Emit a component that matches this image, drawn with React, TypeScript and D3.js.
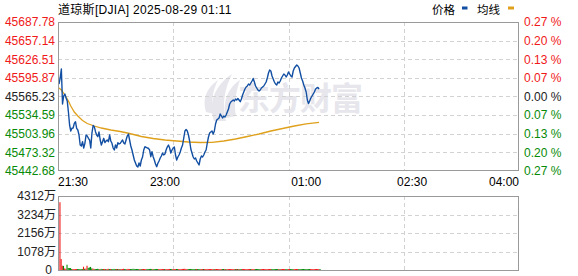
import React from 'react';
import * as d3 from 'd3';

const TITLE = '道琼斯[DJIA] 2025-08-29 01:11';
const LEGEND = ['价格', '均线'];
const PRICE_TICKS = ['45687.78', '45657.14', '45626.51', '45595.87', '45565.23', '45534.59', '45503.96', '45473.32', '45442.68'];
const PCT_TICKS = ['0.27 %', '0.20 %', '0.13 %', '0.07 %', '0.00 %', '0.07 %', '0.13 %', '0.20 %', '0.27 %'];
const TIME_LABELS = ['21:30', '23:00', '01:00', '02:30', '04:00'];
const TIME_LABEL_MINUTES = [0, 90, 210, 300, 390];
const VOL_TICKS = ['4312万', '3234万', '2156万', '1078万', '0'];
const VOL_TICK_VALUES = [4312, 3234, 2156, 1078, 0];
const PREV_CLOSE = 45565.23;
const SESSION_MINUTES = 390;

const prices = [
  45585.79, 45595.66, 45610.47, 45552.89, 45566.05, 45569.34, 45562.76, 45557.82, 45539.73, 45518.34,
  45508.47, 45512.92, 45513.41, 45521.14, 45523.77, 45512.92, 45510.12, 45501.89, 45485.44, 45483.80,
  45490.87, 45480.51, 45488.24, 45501.89, 45500.25, 45496.47, 45493.67, 45480.51, 45505.18, 45517.52,
  45515.55, 45507.32, 45501.89, 45499.10, 45506.83, 45493.67, 45485.44, 45490.87, 45496.47, 45489.56,
  45492.02, 45493.67, 45490.87, 45501.89, 45492.02, 45488.24, 45480.51, 45477.22, 45485.44, 45480.51,
  45489.23, 45487.09, 45488.24, 45490.87, 45493.67, 45488.73, 45487.09, 45493.67, 45500.25, 45503.54,
  45493.67, 45483.80, 45477.22, 45468.99, 45460.77, 45455.83, 45450.90, 45449.25, 45455.83, 45450.90,
  45460.77, 45465.70, 45477.22, 45482.65, 45481.66, 45480.51, 45480.02, 45477.22, 45466.20, 45474.42,
  45466.20, 45460.77, 45454.19, 45449.75, 45455.34, 45459.12, 45464.06, 45467.35, 45472.28, 45468.99,
  45470.64, 45477.22, 45482.15, 45485.44, 45480.51, 45472.28, 45477.22, 45480.51, 45482.15, 45468.99,
  45460.77, 45465.70, 45468.99, 45473.93, 45480.51, 45485.44, 45496.96, 45508.47, 45510.94, 45508.47,
  45501.89, 45492.02, 45478.86, 45472.28, 45465.70, 45462.41, 45464.06, 45459.12, 45455.83, 45452.54,
  45462.41, 45467.35, 45465.70, 45468.99, 45473.93, 45477.22, 45488.73, 45498.60, 45505.18, 45506.83,
  45508.47, 45503.54, 45508.47, 45519.99, 45526.57, 45528.21, 45529.86, 45536.44, 45533.15, 45529.86,
  45533.15, 45531.50, 45534.79, 45539.73, 45544.66, 45552.89, 45556.18, 45557.82, 45559.47, 45557.82,
  45561.12, 45559.47, 45561.94, 45559.47, 45556.67, 45561.12, 45567.70, 45572.63, 45577.57, 45580.86,
  45582.50, 45585.79, 45584.15, 45587.44, 45590.73, 45594.84, 45589.08, 45582.50, 45579.21, 45575.92,
  45574.28, 45575.92, 45579.21, 45580.86, 45582.50, 45585.79, 45589.08, 45595.66, 45603.89, 45608.82,
  45607.18, 45598.95, 45594.02, 45589.08, 45585.79, 45584.15, 45589.08, 45587.44, 45590.73, 45595.66,
  45598.95, 45602.24, 45600.60, 45597.31, 45600.60, 45605.53, 45602.24, 45598.95, 45597.31, 45607.18,
  45612.11, 45614.58, 45617.05, 45615.40, 45612.11, 45603.89, 45595.66, 45590.73, 45584.15, 45579.21,
  45572.63, 45559.47, 45553.71, 45557.82, 45562.76, 45566.05, 45569.34, 45572.63, 45577.57, 45579.21,
  45580.03, 45577.57,
];

const avgMinutes = [0, 2, 5, 8, 10, 13, 16, 20, 24, 30, 36, 44, 52, 60, 70, 80, 90, 100, 110, 120, 130, 140, 150, 160, 170, 180, 190, 200, 210, 221];
const avgPrices = [
  45579.21, 45575.92, 45567.70, 45557.82, 45549.60, 45539.73, 45533.15, 45525.75, 45520.81, 45516.70,
  45513.41, 45510.12, 45507.65, 45504.36, 45499.43, 45496.14, 45493.67, 45492.02, 45490.38, 45489.56,
  45489.89, 45492.02, 45495.31, 45499.43, 45503.54, 45508.47, 45512.59, 45516.70, 45520.32, 45522.79,
];

const volumes = [
  3950, 640, 250, 240, 90, 70, 310, 120, 115, 110,
  60, 50, 45, 55, 50, 45, 50, 55, 60, 50,
  190, 75, 80, 250, 120, 150, 180, 90, 85, 60,
  60, 45, 70, 55, 50, 65, 40, 55, 60, 50,
  45, 70, 55, 60, 50, 45, 65, 55, 50, 60,
  55, 45, 60, 50, 70, 55, 45, 60, 65, 50,
  55, 60, 70, 65, 55, 50, 60, 45, 55, 50,
  60, 55, 50, 45, 60, 55, 50, 65, 60, 45,
  50, 55, 60, 50, 45, 55, 60, 50, 45, 55,
  50, 45, 55, 60, 50, 45, 50, 55, 45, 50,
  55, 50, 45, 50, 60, 65, 70, 60, 55, 50,
  55, 60, 50, 45, 50, 55, 45, 50, 55, 60,
  50, 45, 55, 50, 45, 60, 55, 50, 45, 50,
  55, 45, 50, 55, 60, 50, 45, 50, 55, 45,
  50, 45, 55, 50, 45, 50, 55, 45, 50, 40,
  45, 50, 40, 45, 50, 55, 45, 50, 55, 45,
  50, 45, 40, 50, 55, 45, 50, 45, 40, 45,
  50, 45, 40, 45, 50, 45, 50, 55, 50, 45,
  40, 45, 50, 45, 40, 45, 50, 45, 40, 45,
  50, 45, 40, 45, 50, 45, 40, 50, 45, 40,
  45, 50, 45, 40, 45, 50, 55, 50, 45, 50,
  55, 50, 45, 40, 45, 50, 45, 40, 45, 50,
  45, 40,
];

const W = 578;
const H = 276;
const L = 58;
const R = 519;
const PT = 22;
const PB = 171;
const VT = 196;
const VB = 270;

const RED = '#f01818';
const GREEN = '#078a07';
const DARK = '#222';
const BLUE = '#124fa3';
const ORANGE = '#dfa01c';
const GRID = '#d2d2d2';
const FRAME = '#9a9a9a';
const FONT = "Arial, 'Liberation Sans', 'Noto Sans CJK SC', sans-serif";

export default function App() {
  const x = d3.scaleLinear().domain([0, SESSION_MINUTES]).range([L + 1, R - 1]);
  const pMin = +PRICE_TICKS[PRICE_TICKS.length - 1];
  const pMax = +PRICE_TICKS[0];
  const y = d3.scaleLinear().domain([pMin, pMax]).range([PB, PT]);
  const yv = d3.scaleLinear().domain([0, VOL_TICK_VALUES[0]]).range([VB, VT]);

  const priceLine = d3.line<number>().x((_, i) => x(i)).y((d) => y(d));
  const avgLine = d3.line<number>().x((_, i) => x(avgMinutes[i])).y((d) => y(d));

  const vGrid = [1, 2, 3].map((k) => Math.round(L + (k * (R - L)) / 4) + 0.5);
  const priceGridVals = PRICE_TICKS.slice(1, -1).map((t) => +t);
  const volGridVals = VOL_TICK_VALUES.slice(1, -1);

  const tickColor = (v: number) => (Math.abs(v - PREV_CLOSE) < 0.01 ? DARK : v > PREV_CLOSE ? RED : GREEN);

  return (
    <svg width={W} height={H} style={{ position: 'absolute', left: 0, top: 0, background: '#fff' }} fontFamily={FONT}>
      <rect x={0} y={0} width={W} height={H} fill="#fff" />

      {/* title & legend */}
      <text x={L} y={14} fontSize={12} fill="#000" letterSpacing={0.3}>{TITLE}</text>
      <text x={432} y={13.5} fontSize={11.5} fill="#000">{LEGEND[0]}</text>
      <rect x={462} y={6.5} width={5.5} height={3} fill={BLUE} />
      <text x={477} y={13.5} fontSize={11.5} fill="#000">{LEGEND[1]}</text>
      <rect x={508} y={6.5} width={6} height={3} fill={ORANGE} />

      {/* watermark */}
      <g fill="#e6e6ec">
        <path d="M214,121 C208,104 214,86 232,74 C224,90 222,104 226,121 Z" />
        <path d="M226,118 C222,102 228,88 240,80 C235,94 234,106 236,116 Z" />
        <path d="M206,112 C202,100 206,88 218,80 C212,92 211,102 214,114 Z" />
        <text x={238} y={110} fontSize={32} fontWeight="bold" letterSpacing={-1} fontFamily="'Noto Sans CJK SC', sans-serif">东方财富</text>
      </g>

      {/* price grid */}
      <g stroke={GRID} strokeDasharray="4,3" strokeWidth={1}>
        {priceGridVals.map((v, i) => (
          <line key={'pg' + i} x1={L} x2={R} y1={Math.round(y(v)) + 0.5} y2={Math.round(y(v)) + 0.5} />
        ))}
        {vGrid.map((gx, i) => (
          <line key={'vg' + i} x1={gx} x2={gx} y1={PT} y2={PB} />
        ))}
        {volGridVals.map((v, i) => (
          <line key={'vvg' + i} x1={L} x2={R} y1={Math.round(yv(v)) + 0.5} y2={Math.round(yv(v)) + 0.5} />
        ))}
        {vGrid.map((gx, i) => (
          <line key={'vvx' + i} x1={gx} x2={gx} y1={VT} y2={VB} />
        ))}
      </g>

      {/* average & price lines */}
      <path d={avgLine(avgPrices) || ''} fill="none" stroke={ORANGE} strokeWidth={1.3} />
      <path d={priceLine(prices) || ''} fill="none" stroke={BLUE} strokeWidth={1.4} strokeLinejoin="round" />

      {/* volume bars */}
      {volumes.map((v, i) => {
        const up = i === 0 || prices[i] >= prices[i - 1];
        const top = yv(v);
        const h = Math.max(1, VB - top);
        return <rect key={'vb' + i} x={x(i) + 0.4} y={VB - h} width={1.1} height={h} fill={up ? RED : GREEN} />;
      })}

      {/* frames */}
      <rect x={L + 0.5} y={PT + 0.5} width={R - L - 1} height={PB - PT - 1} fill="none" stroke={FRAME} />
      <rect x={L + 0.5} y={VT + 0.5} width={R - L - 1} height={VB - VT} fill="none" stroke={FRAME} />

      {/* left price labels */}
      {PRICE_TICKS.map((t, i) => (
        <text key={'pl' + i} x={55} y={y(+t)} dy="0.36em" textAnchor="end" fontSize={12} fill={tickColor(+t)}>{t}</text>
      ))}
      {/* right pct labels */}
      {PCT_TICKS.map((t, i) => {
        const v = +PRICE_TICKS[i];
        return (
          <text key={'pr' + i} x={524} y={y(v)} dy="0.36em" fontSize={12} fill={tickColor(v)}>{t}</text>
        );
      })}

      {/* time labels */}
      {TIME_LABELS.map((t, i) => {
        const m = TIME_LABEL_MINUTES[i];
        const anchor = i === 0 ? 'start' : i === TIME_LABELS.length - 1 ? 'end' : 'middle';
        const tx = i === 0 ? L : i === TIME_LABELS.length - 1 ? R : x(m);
        return (
          <text key={'tl' + i} x={tx} y={186} textAnchor={anchor} fontSize={12} fill="#000">{t}</text>
        );
      })}

      {/* volume labels */}
      {VOL_TICKS.map((t, i) => (
        <text key={'vl' + i} x={i === VOL_TICKS.length - 1 ? 52 : 56} y={yv(VOL_TICK_VALUES[i])} dy="0.36em" textAnchor="end" fontSize={12} fill={DARK}>{t}</text>
      ))}
    </svg>
  );
}
